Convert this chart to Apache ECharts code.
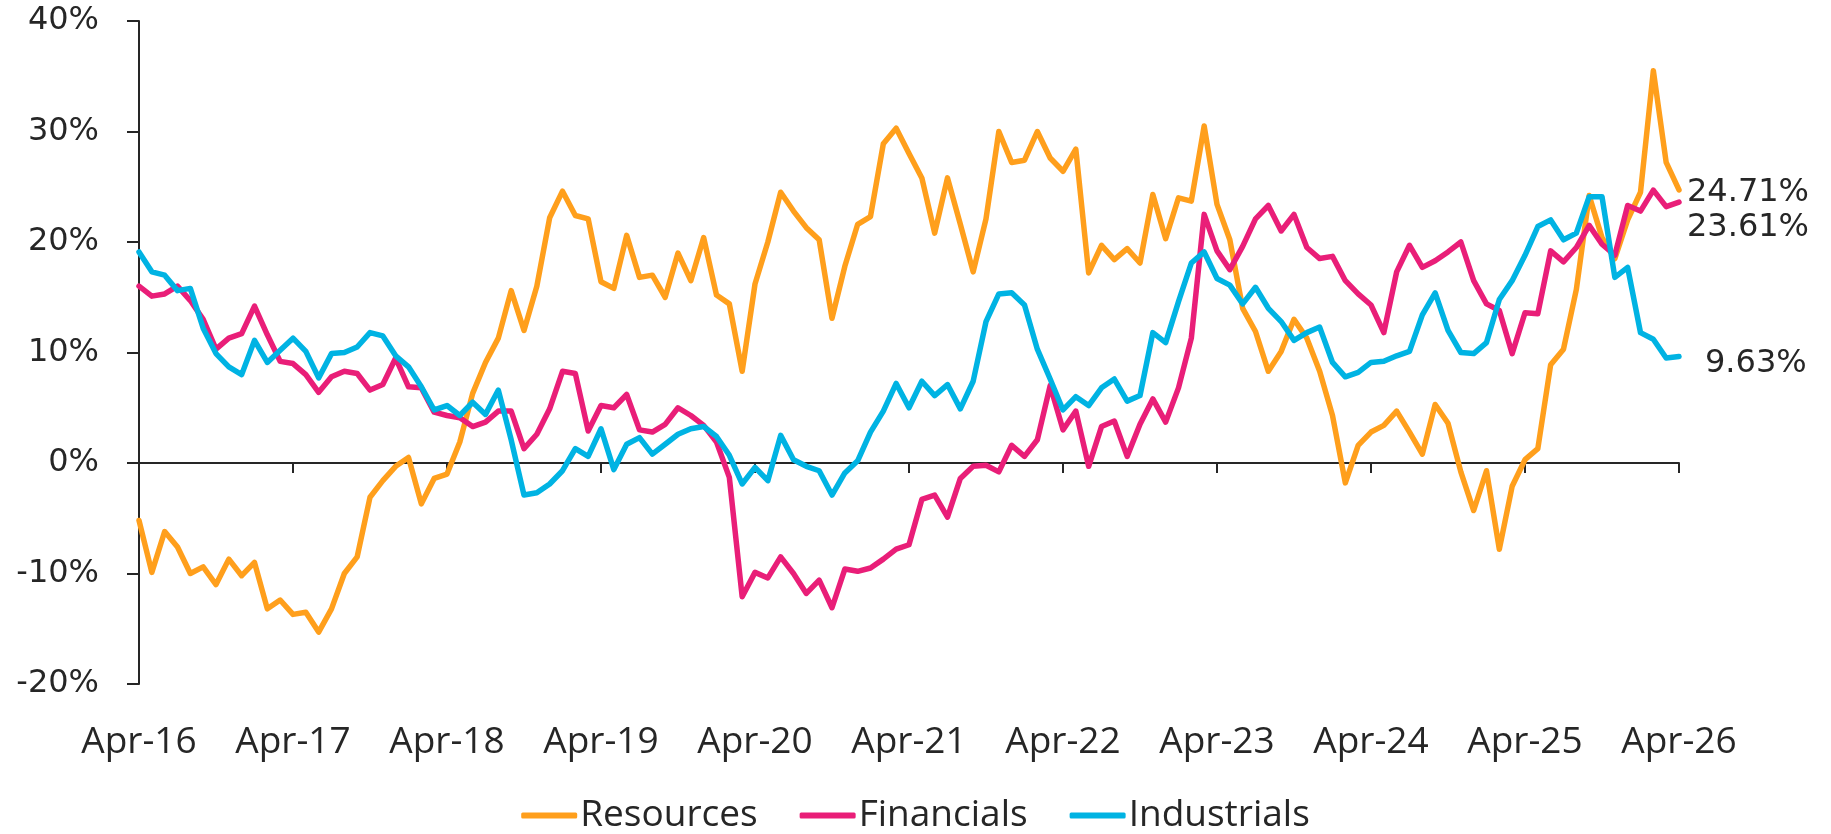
<!DOCTYPE html>
<html>
<head>
<meta charset="utf-8">
<script src="https://cdn.jsdelivr.net/npm/echarts@6/dist/echarts.min.js"></script>
<style>
  html, body { margin: 0; padding: 0; background: #fff; }
  #chart { width: 1831px; height: 834px; }
</style>
</head>
<body>
<div id="chart"></div>
<script>
// monthly points, Apr-16 .. Apr-26
var monthNames = ['Apr', 'May', 'Jun', 'Jul', 'Aug', 'Sep', 'Oct', 'Nov', 'Dec', 'Jan', 'Feb', 'Mar'];
var startYear = 16;
var monthCount = 121;

var resources = [
  -5.2, -9.9, -6.2, -7.6, -10.0, -9.4, -11.0, -8.7, -10.2, -9.0, -13.2, -12.4,
  -13.7, -13.5, -15.3, -13.2, -10.0, -8.5, -3.1, -1.6, -0.3, 0.5, -3.7, -1.4,
  -1.0, 1.9, 6.3, 9.1, 11.3, 15.6, 12.0, 16.0, 22.2, 24.6, 22.4, 22.1,
  16.4, 15.8, 20.6, 16.8, 17.0, 15.0, 19.0, 16.5, 20.4, 15.2, 14.4, 8.3,
  16.2, 20.0, 24.5, 22.8, 21.3, 20.2, 13.1, 17.8, 21.6, 22.3, 28.9, 30.3,
  28.0, 25.8, 20.8, 25.8, 21.6, 17.3, 22.1, 30.0, 27.2, 27.4, 30.0, 27.6,
  26.4, 28.4, 17.2, 19.7, 18.4, 19.4, 18.1, 24.3, 20.3, 24.0, 23.7, 30.5,
  23.4, 20.2, 14.0, 11.9, 8.3, 10.1, 13.0, 11.3, 8.3, 4.3, -1.8, 1.6,
  2.8, 3.4, 4.7, 2.8, 0.8, 5.3, 3.6, -0.8, -4.3, -0.7, -7.8, -2.1,
  0.3, 1.3, 8.9, 10.3, 15.7, 24.2, 20.4, 18.5, 22.0, 24.5, 35.5, 27.2,
  24.71
];

var financials = [
  16.0, 15.1, 15.3, 16.0, 14.7, 13.0, 10.3, 11.3, 11.7, 14.2, 11.6, 9.2,
  9.0, 8.0, 6.4, 7.8, 8.3, 8.1, 6.6, 7.1, 9.5, 6.9, 6.8, 4.6,
  4.3, 4.1, 3.3, 3.7, 4.7, 4.7, 1.3, 2.6, 4.9, 8.3, 8.1, 2.9,
  5.2, 5.0, 6.2, 3.0, 2.8, 3.5, 5.0, 4.3, 3.4, 1.9, -1.3, -12.1,
  -9.9, -10.4, -8.5, -10.0, -11.8, -10.6, -13.1, -9.6, -9.8, -9.5, -8.7, -7.8,
  -7.4, -3.3, -2.9, -4.9, -1.4, -0.3, -0.2, -0.8, 1.6, 0.6, 2.1, 7.0,
  3.0, 4.7, -0.3, 3.3, 3.8, 0.6, 3.5, 5.8, 3.7, 6.8, 11.3, 22.5,
  19.2, 17.5, 19.6, 22.1, 23.3, 21.0, 22.5, 19.5, 18.5, 18.7, 16.5, 15.3,
  14.3, 11.8, 17.3, 19.7, 17.7, 18.3, 19.1, 20.0, 16.5, 14.4, 13.8, 9.9,
  13.6, 13.5, 19.2, 18.2, 19.5, 21.5, 19.8, 18.8, 23.3, 22.8, 24.7, 23.2,
  23.61
];

var industrials = [
  19.1, 17.3, 17.0, 15.6, 15.8, 12.2, 9.9, 8.7, 8.0, 11.1, 9.1, 10.2,
  11.3, 10.1, 7.7, 9.9, 10.0, 10.5, 11.8, 11.5, 9.7, 8.7, 6.9, 4.8,
  5.2, 4.3, 5.5, 4.4, 6.6, 2.1, -2.9, -2.7, -1.9, -0.7, 1.3, 0.6,
  3.1, -0.6, 1.7, 2.3, 0.8, 1.7, 2.6, 3.1, 3.3, 2.4, 0.7, -1.9,
  -0.4, -1.6, 2.5, 0.3, -0.3, -0.7, -2.9, -0.9, 0.2, 2.8, 4.7, 7.2,
  5.0, 7.4, 6.1, 7.1, 4.9, 7.4, 12.8, 15.3, 15.4, 14.3, 10.3, 7.6,
  4.8, 6.0, 5.2, 6.8, 7.6, 5.6, 6.1, 11.8, 10.9, 14.6, 18.1, 19.1,
  16.7, 16.1, 14.4, 15.9, 14.0, 12.8, 11.1, 11.8, 12.3, 9.1, 7.8, 8.2,
  9.1, 9.2, 9.7, 10.1, 13.4, 15.4, 12.0, 10.0, 9.9, 10.9, 14.8, 16.5,
  18.8, 21.4, 22.0, 20.2, 20.8, 24.1, 24.1, 16.8, 17.7, 11.8, 11.2, 9.5,
  9.63
];

var seriesNames = ['Resources', 'Financials', 'Industrials'];
var seriesColors = ['#FF9F1C', '#E91E78', '#00B3E3'];

var categories = [];
for (var i = 0; i < monthCount; i++) {
  var yr = startYear + Math.floor((i + 3) / 12);
  categories.push(monthNames[i % 12] + '-' + yr);
}

var axisColor = '#262626';
var numFont = 'DejaVu Sans';
var textFont = 'Open Sans';

function endLabel(offset) {
  return {
    show: true,
    distance: 8,
    offset: offset,
    fontFamily: numFont,
    fontSize: 32,
    color: axisColor,
    formatter: function (p) {
      return p.value.toFixed(2) + '%';
    }
  };
}

function lineSeries(idx, data, offset) {
  return {
    name: seriesNames[idx],
    type: 'line',
    data: data,
    xAxisIndex: 0,
    showSymbol: false,
    symbol: 'none',
    color: seriesColors[idx],
    lineStyle: { width: 5.5, color: seriesColors[idx], cap: 'round', join: 'round' },
    endLabel: endLabel(offset)
  };
}

var chart = echarts.init(document.getElementById('chart'));
chart.setOption({
  animation: false,
  grid: { left: 139, right: 152, top: 21, bottom: 150 },
  legend: {
    data: seriesNames,
    bottom: -5,
    left: 'center',
    icon: 'roundRect',
    itemWidth: 56,
    itemHeight: 6,
    itemGap: 42,
    textStyle: { fontFamily: textFont, fontSize: 37, color: axisColor, padding: [0, 0, 0, -2] }
  },
  xAxis: [
    {
      // axis line sitting on 0%
      type: 'category',
      data: categories,
      boundaryGap: false,
      axisLine: { onZero: true, lineStyle: { color: axisColor, width: 2 } },
      axisTick: { show: true, interval: 11, length: 10, lineStyle: { color: axisColor, width: 2 } },
      axisLabel: { show: false },
      splitLine: { show: false }
    },
    {
      // labels along the bottom
      type: 'category',
      data: categories,
      boundaryGap: false,
      position: 'bottom',
      axisLine: { show: false, onZero: false },
      axisTick: { show: false },
      axisLabel: {
        interval: 11,
        margin: 40,
        fontFamily: textFont,
        fontSize: 37,
        color: axisColor
      },
      splitLine: { show: false }
    }
  ],
  yAxis: {
    type: 'value',
    min: -20,
    max: 40,
    interval: 10,
    axisLine: { show: true, lineStyle: { color: axisColor, width: 2 } },
    axisTick: { show: true, length: 12, lineStyle: { color: axisColor, width: 2 } },
    axisLabel: {
      margin: 40,
      fontFamily: numFont,
      fontSize: 32,
      color: axisColor,
      formatter: '{value}%'
    },
    splitLine: { show: false }
  },
  series: [
    lineSeries(0, resources, [0, 3]),
    lineSeries(1, financials, [0, 26]),
    lineSeries(2, industrials, [18, 7])
  ]
});
</script>
</body>
</html>
